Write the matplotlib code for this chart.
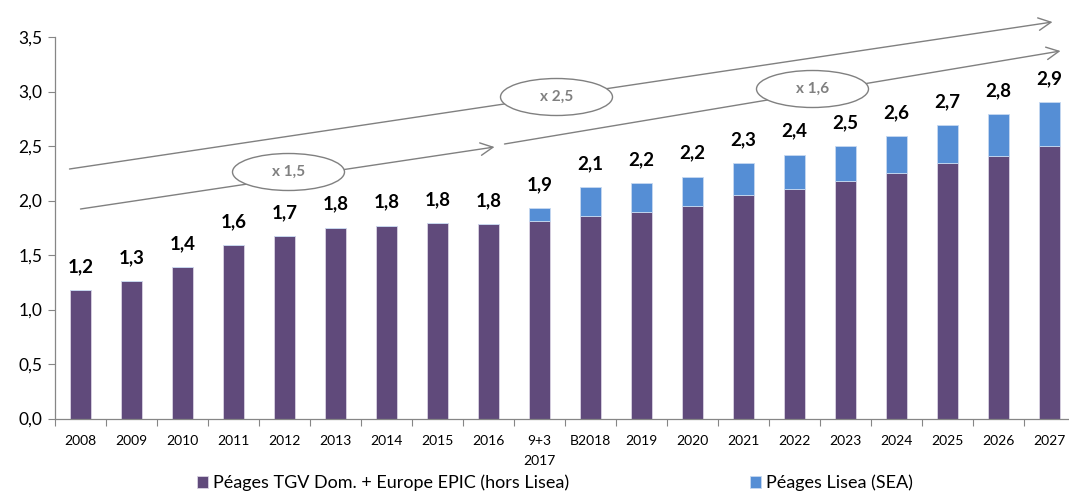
import matplotlib
matplotlib.use("Agg")
import matplotlib.pyplot as plt
from matplotlib.patches import Ellipse
from matplotlib.ticker import FuncFormatter, FixedLocator
import numpy as np

plt.rcParams['font.family'] = ['Lato', 'DejaVu Sans']

categories = ["2008", "2009", "2010", "2011", "2012", "2013", "2014", "2015", "2016",
              "9+3\n2017", "B2018", "2019", "2020", "2021", "2022", "2023", "2024",
              "2025", "2026", "2027"]
epic = [1.18, 1.26, 1.39, 1.59, 1.67, 1.75, 1.77, 1.79, 1.78,
        1.81, 1.86, 1.89, 1.95, 2.05, 2.11, 2.18, 2.25, 2.34, 2.41, 2.50]
lisea = [0.0, 0.0, 0.0, 0.0, 0.0, 0.0, 0.0, 0.0, 0.0,
         0.12, 0.26, 0.27, 0.27, 0.29, 0.31, 0.32, 0.34, 0.35, 0.38, 0.40]
total_labels = ["1,2", "1,3", "1,4", "1,6", "1,7", "1,8", "1,8", "1,8", "1,8", "1,9",
                "2,1", "2,2", "2,2", "2,3", "2,4", "2,5", "2,6", "2,7", "2,8", "2,9"]
series_names = ["Péages TGV Dom. + Europe EPIC (hors Lisea)", "Péages Lisea (SEA)"]

purple = "#604A7B"
blue = "#558ED5"
gray = "#808080"

W, H = 1069, 492
fig = plt.figure(figsize=(W / 100, H / 100), dpi=100)
ax = fig.add_axes([55 / W, 1 - 418.5 / H, 1020 / W, 381.5 / H])

x = np.arange(len(categories))
epic_a = np.array(epic)
lisea_a = np.array(lisea)
b1 = ax.bar(x, epic_a, width=0.41, color=purple, edgecolor="#d9d3e3", linewidth=0.6,
            label=series_names[0], zorder=2)
b2 = ax.bar(x, lisea_a, bottom=epic_a, width=0.41, color=blue, edgecolor="#c6d9f1",
            linewidth=0.6, label=series_names[1], zorder=2)

totals = epic_a + lisea_a
for xi, t, lab in zip(x, totals, total_labels):
    ax.annotate(lab, (xi, t), xytext=(0, 17), textcoords="offset points",
                ha="center", va="center", fontsize=13.5, fontweight="bold", color="black")

ax.set_xlim(-0.5, len(categories) - 0.5)
ax.set_ylim(0, 3.5)
ax.yaxis.set_major_locator(FixedLocator(np.arange(0, 3.51, 0.5)))
ax.yaxis.set_major_formatter(FuncFormatter(lambda v, p: f"{v:.1f}".replace(".", ",")))
ax.set_xticks(x)
ax.set_xticklabels(categories, fontsize=10, linespacing=1.8)
ax.set_xticks(np.arange(-0.5, len(categories), 1.0), minor=True)
ax.tick_params(axis="x", which="major", length=0, pad=12)
ax.tick_params(axis="x", which="minor", length=5, color="#868686", width=0.8)
ax.tick_params(axis="y", length=5, color="#868686", width=0.8, labelsize=12.5, pad=4)
for s in ["top", "right"]:
    ax.spines[s].set_visible(False)
for s in ["left", "bottom"]:
    ax.spines[s].set_color("#868686")
    ax.spines[s].set_linewidth(0.9)

# growth arrows (pixel positions converted to data coordinates)
def d(px, py):
    return ((px - 80) / 51.0, (418.5 - py) / 109.0)

arrow_kw = dict(arrowstyle="->,head_length=0.9,head_width=0.45", color=gray, lw=1.0,
                shrinkA=0, shrinkB=0)
for p0, p1 in [((69, 169), (1052, 22)), ((80, 209), (494, 147)), ((504, 144), (1060, 51))]:
    ax.annotate("", xy=d(*p1), xytext=d(*p0), arrowprops=arrow_kw,
                annotation_clip=False, zorder=3)

for (cx, cy), txt in [((288, 172), "x 1,5"), ((556, 97), "x 2,5"), ((812, 89), "x 1,6")]:
    c = d(cx, cy)
    e = Ellipse(c, width=112 / 51.0, height=37 / 109.0, facecolor="white",
                edgecolor=gray, lw=1.0, zorder=4, clip_on=False)
    ax.add_patch(e)
    ax.text(c[0], c[1], txt, ha="center", va="center", fontsize=11, fontweight="bold",
            color=gray, zorder=5)

fig.legend(handles=[b1, b2], labels=series_names, loc="center",
           bbox_to_anchor=(555 / W, 1 - 483 / H), ncol=2, frameon=False, fontsize=13,
           handlelength=0.6, handleheight=0.6, handletextpad=0.3, columnspacing=10.0)

fig.savefig("out.png", dpi=100)
